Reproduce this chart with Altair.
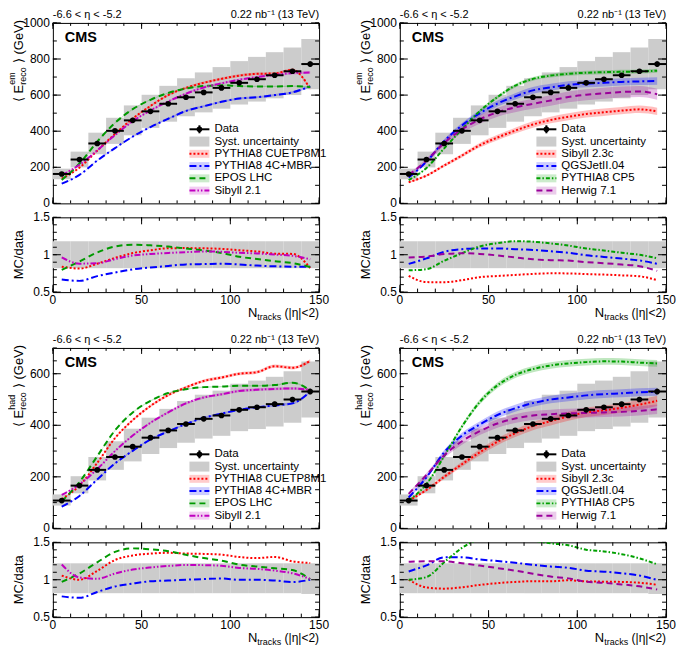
import altair as alt
import pandas as pd

FONT = "Liberation Sans"

# ---------------- data ----------------
ntrk = [5, 15, 25, 35, 45, 55, 65, 75, 85, 95, 105, 115, 125, 135, 145]
bin_lo = [0, 10, 20, 30, 40, 50, 60, 70, 80, 90, 100, 110, 120, 130, 140]
bin_hi = [10, 20, 30, 40, 50, 60, 70, 80, 90, 100, 110, 120, 130, 140, 150]

em_data = [163, 243, 332, 402, 460, 510, 552, 588, 615, 640, 668, 688, 710, 732, 772]
em_stat = [4, 5, 5, 6, 6, 6, 7, 7, 8, 8, 9, 10, 11, 12, 14]
em_syst_up = [0.18, 0.18, 0.18, 0.18, 0.18, 0.18, 0.18, 0.18, 0.18, 0.18, 0.18, 0.18, 0.18, 0.18, 0.18]
em_syst_dn = [0.18, 0.18, 0.18, 0.18, 0.18, 0.18, 0.18, 0.18, 0.18, 0.18, 0.18, 0.18, 0.18, 0.18, 0.18]

had_data = [108, 166, 227, 277, 317, 352, 380, 405, 425, 438, 460, 470, 482, 500, 531]
had_stat = [3, 4, 4, 5, 5, 5, 6, 6, 6, 7, 7, 8, 9, 10, 11]
had_syst_up = [0.22, 0.22, 0.22, 0.22, 0.22, 0.22, 0.22, 0.22, 0.22, 0.22, 0.22, 0.22, 0.22, 0.22, 0.22]
had_syst_dn = [0.18, 0.18, 0.18, 0.18, 0.18, 0.18, 0.18, 0.18, 0.18, 0.18, 0.18, 0.18, 0.18, 0.18, 0.19]

# EM, model set A
em_cuetp8m1 = [137, 198, 292, 385, 470, 540, 600, 640, 668, 690, 708, 718, 720, 740, 635]
em_4cmbr = [109, 158, 237, 306, 370, 423, 469, 512, 538, 563, 581, 588, 600, 615, 648]
em_epos = [130, 221, 342, 446, 522, 574, 612, 637, 650, 655, 650, 648, 648, 650, 645]
em_sibyll21 = [157, 214, 294, 378, 455, 515, 565, 608, 642, 665, 685, 700, 712, 722, 725]
# EM, model set B
em_sibyll23c = [117, 154, 210, 265, 322, 365, 403, 437, 462, 480, 495, 505, 514, 521, 510]
em_qgsjet = [143, 231, 345, 432, 499, 553, 593, 626, 643, 657, 663, 668, 673, 676, 678]
em_cp5 = [129, 196, 305, 410, 511, 589, 652, 690, 708, 718, 724, 727, 729, 731, 735]
em_herwig = [157, 237, 335, 410, 465, 505, 532, 552, 570, 590, 602, 610, 617, 620, 605]

# HAD, model set A
had_cuetp8m1 = [114, 166, 254, 350, 420, 475, 517, 547, 572, 585, 600, 606, 629, 623, 650]
had_4cmbr = [84, 126, 190, 252, 301, 345, 376, 405, 429, 445, 460, 470, 477, 485, 531]
had_epos = [105, 180, 280, 380, 450, 495, 525, 540, 548, 550, 553, 553, 556, 565, 535]
had_sibyll21 = [130, 171, 230, 300, 360, 410, 450, 485, 508, 520, 533, 538, 541, 543, 537]
# HAD, model set B
had_sibyll23c = [108, 149, 200, 249, 295, 336, 369, 397, 416, 435, 450, 458, 468, 480, 495]
had_qgsjet = [120, 198, 295, 360, 403, 440, 466, 486, 500, 508, 516, 521, 524, 528, 530]
had_cp5 = [108, 172, 280, 395, 490, 555, 595, 618, 632, 640, 645, 648, 647, 643, 640]
had_herwig = [134, 207, 283, 338, 377, 407, 426, 438, 443, 446, 448, 450, 452, 456, 462]

# relative MC uncertainty (hatched bands)
unc_em_A = {"PYTHIA8 CUETP8M1": 0.01, "PYTHIA8 4C+MBR": 0.01, "EPOS LHC": 0.005, "Sibyll 2.1": 0.01}
unc_em_B = {"Sibyll 2.3c": 0.04, "QGSJetII.04": 0.03, "PYTHIA8 CP5": 0.015, "Herwig 7.1": 0.05}
unc_had_A = {"PYTHIA8 CUETP8M1": 0.01, "PYTHIA8 4C+MBR": 0.01, "EPOS LHC": 0.005, "Sibyll 2.1": 0.01}
unc_had_B = {"Sibyll 2.3c": 0.04, "QGSJetII.04": 0.03, "PYTHIA8 CP5": 0.02, "Herwig 7.1": 0.04}

# axis ticks and labels
x_major = [0, 50, 100, 150]
x_labels = ["0", "50", "100", "150"]
x_minor = [0, 10, 20, 30, 40, 50, 60, 70, 80, 90, 100, 110, 120, 130, 140, 150]
em_y_major = [0, 200, 400, 600, 800, 1000]
em_y_labels = ["0", "200", "400", "600", "800", "1000"]
em_y_minor = [0, 100, 200, 300, 400, 500, 600, 700, 800, 900, 1000]
had_y_major = [0, 200, 400, 600]
had_y_labels = ["0", "200", "400", "600"]
had_y_minor = [0, 50, 100, 150, 200, 250, 300, 350, 400, 450, 500, 550, 600, 650, 700]
r_major = [0.5, 1.0, 1.5]
r_labels = ["0.5", "1", "1.5"]
r_minor = [0.5, 0.6, 0.7, 0.8, 0.9, 1.0, 1.1, 1.2, 1.3, 1.4, 1.5]

# ---------------- styles ----------------
ALL_MODELS = ["PYTHIA8 CUETP8M1", "PYTHIA8 4C+MBR", "EPOS LHC", "Sibyll 2.1",
              "Sibyll 2.3c", "QGSJetII.04", "PYTHIA8 CP5", "Herwig 7.1"]
COLORS = ["#ff0000", "#0000ff", "#009900", "#c000c0",
          "#ff0000", "#0000ff", "#00a000", "#9a009a"]
DASHES = [[2, 2], [7, 3, 2, 3], [6, 4], [6, 2, 1.5, 2, 1.5, 2],
          [2, 2], [7, 3, 2, 3], [4, 2, 1.5, 2], [6, 4]]
COLOR_OF = dict(zip(ALL_MODELS, COLORS))
DASH_OF = dict(zip(ALL_MODELS, DASHES))

W = 267
HM = 181
HR = 75
SYST_GRAY = "#cccccc"
LABEL_SIZE = 12

color_enc = alt.Color("model:N", scale=alt.Scale(domain=ALL_MODELS, range=COLORS), legend=None)
dash_enc = alt.StrokeDash("model:N", scale=alt.Scale(domain=ALL_MODELS, range=DASHES), legend=None)

dummy = pd.DataFrame({"k": [0]})


def txt(s, x, y, size=12, align="left", baseline="alphabetic", angle=0, bold=False):
    return alt.Chart(dummy).mark_text(
        text=s, fontSize=size, align=align, baseline=baseline, angle=angle,
        font=FONT, fontWeight="bold" if bold else "normal", color="black"
    ).encode(x=alt.value(x), y=alt.value(y))


def tick_layers(vals, scale, orient, length, width, height):
    df = pd.DataFrame({"t": vals})
    base = alt.Chart(df).mark_rule(color="black", strokeWidth=1)
    if orient == "x":
        enc = alt.X("t:Q", scale=scale, axis=None)
        return [base.encode(x=enc, y=alt.value(height - length), y2=alt.value(height)),
                base.encode(x=enc, y=alt.value(0), y2=alt.value(length))]
    enc = alt.Y("t:Q", scale=scale, axis=None)
    return [base.encode(y=enc, x=alt.value(0), x2=alt.value(length)),
            base.encode(y=enc, x=alt.value(width - length), x2=alt.value(width))]


def y_labels(vals, labels, scale):
    df = pd.DataFrame({"t": vals, "lab": labels})
    return alt.Chart(df).mark_text(align="right", baseline="middle", fontSize=LABEL_SIZE,
                                   font=FONT, color="black").encode(
        y=alt.Y("t:Q", scale=scale, axis=None), x=alt.value(-3), text="lab:N")


def x_labels_layer(vals, labels, scale, height):
    df = pd.DataFrame({"t": vals, "lab": labels})
    return alt.Chart(df).mark_text(align="center", baseline="top", fontSize=LABEL_SIZE,
                                   font=FONT, color="black").encode(
        x=alt.X("t:Q", scale=scale, axis=None), y=alt.value(height + 3), text="lab:N")


def mc_frame(models, series, data, unc):
    rows = []
    for m, vals in zip(models, series):
        for x, v, d in zip(ntrk, vals, data):
            rows.append({"x": x, "model": m, "mc": v, "data": d, "u": unc[m]})
    return pd.DataFrame(rows)


def panel(data, stat, s_up, s_dn, models, series, unc, ymax, ymaj, ylab, ymin, sup):
    xs = alt.Scale(domain=[0, 150], nice=False, zero=False)
    ys = alt.Scale(domain=[0, ymax], nice=False)
    rs = alt.Scale(domain=[0.5, 1.5], nice=False, zero=False)

    ddf = pd.DataFrame({"x": ntrk, "lo": bin_lo, "hi": bin_hi, "v": data,
                        "stat": stat, "up": s_up, "dn": s_dn})
    mdf = mc_frame(models, series, data, unc)

    syst = alt.Chart(ddf).transform_calculate(
        y1="datum.v*(1-datum.dn)", y2="datum.v*(1+datum.up)"
    ).mark_rect(color=SYST_GRAY).encode(
        x=alt.X("lo:Q", scale=xs, axis=None), x2="hi:Q",
        y=alt.Y("y1:Q", scale=ys, axis=None), y2="y2:Q")

    band = alt.Chart(mdf).transform_calculate(
        b1="datum.mc*(1-datum.u)", b2="datum.mc*(1+datum.u)"
    ).mark_area(opacity=0.25, interpolate="monotone").encode(
        x=alt.X("x:Q", scale=xs, axis=None),
        y=alt.Y("b1:Q", scale=ys, axis=None), y2="b2:Q", color=color_enc)

    lines = alt.Chart(mdf).mark_line(strokeWidth=2, interpolate="monotone").encode(
        x=alt.X("x:Q", scale=xs, axis=None),
        y=alt.Y("mc:Q", scale=ys, axis=None), color=color_enc, strokeDash=dash_enc)

    hbar = alt.Chart(ddf).mark_rule(color="black", strokeWidth=2).encode(
        x=alt.X("lo:Q", scale=xs, axis=None), x2="hi:Q",
        y=alt.Y("v:Q", scale=ys, axis=None))
    vbar = alt.Chart(ddf).transform_calculate(
        e1="datum.v-datum.stat", e2="datum.v+datum.stat"
    ).mark_rule(color="black", strokeWidth=2).encode(
        x=alt.X("x:Q", scale=xs, axis=None),
        y=alt.Y("e1:Q", scale=ys, axis=None), y2="e2:Q")
    pts = alt.Chart(ddf).mark_circle(color="black", size=32, opacity=1).encode(
        x=alt.X("x:Q", scale=xs, axis=None), y=alt.Y("v:Q", scale=ys, axis=None))

    ticks = (tick_layers(x_major, xs, "x", 6, W, HM) + tick_layers(x_minor, xs, "x", 3, W, HM)
             + tick_layers(ymaj, ys, "y", 8, W, HM) + tick_layers(ymin, ys, "y", 4, W, HM))

    texts = [
        y_labels(ymaj, ylab, ys),
        txt("-6.6 < η < -5.2", 0, -5, 11),
        txt("0.22 nb⁻¹ (13 TeV)", W, -5, 11, align="right"),
        txt("CMS", 12, 19, 14.5, bold=True),
    ]
    # y-axis title pieces (rotated, read bottom to top)
    P = 62
    bx = -29.5
    texts += [
        txt("⟨ E", bx, P, 13, align="right", angle=270),
        txt("reco", bx + 3, P, 9, align="left", angle=270),
        txt(sup, bx - 8, P, 9, align="left", angle=270),
        txt("⟩", bx, P - 22, 13, align="left", angle=270),
        txt("(GeV)", bx, -3, 13, align="right", angle=270),
    ]

    # legend
    LX0, LX1, LT = 137, 157, 162
    ly = [HM - 74.3, HM - 62, HM - 49.7, HM - 37.4, HM - 25.1, HM - 12.8]
    leg = []
    leg.append(alt.Chart(dummy).mark_rule(color="black", strokeWidth=2).encode(
        x=alt.value(LX0), x2=alt.value(LX1), y=alt.value(ly[0])))
    leg.append(alt.Chart(dummy).mark_rule(color="black", strokeWidth=2).encode(
        x=alt.value((LX0 + LX1) / 2), y=alt.value(ly[0] - 4), y2=alt.value(ly[0] + 4)))
    leg.append(alt.Chart(dummy).mark_circle(color="black", size=32, opacity=1).encode(
        x=alt.value((LX0 + LX1) / 2), y=alt.value(ly[0])))
    leg.append(txt("Data", LT, ly[0], 11.5, baseline="middle"))
    leg.append(alt.Chart(dummy).mark_rect(color=SYST_GRAY).encode(
        x=alt.value(LX0), x2=alt.value(LX1), y=alt.value(ly[1] - 5), y2=alt.value(ly[1] + 5)))
    leg.append(txt("Syst. uncertainty", LT, ly[1], 11.5, baseline="middle"))
    for i, m in enumerate(models):
        yy = ly[2 + i]
        leg.append(alt.Chart(dummy).mark_rect(color=COLOR_OF[m], opacity=0.2).encode(
            x=alt.value(LX0), x2=alt.value(LX1), y=alt.value(yy - 4), y2=alt.value(yy + 4)))
        leg.append(alt.Chart(dummy).mark_rule(color=COLOR_OF[m], strokeWidth=2,
                                              strokeDash=DASH_OF[m]).encode(
            x=alt.value(LX0), x2=alt.value(LX1), y=alt.value(yy)))
        leg.append(txt(m, LT, yy, 11.5, baseline="middle"))

    main = alt.layer(syst, band, lines, hbar, vbar, pts, *ticks, *texts, *leg).properties(
        width=W, height=HM)

    # ratio panel
    rsyst = alt.Chart(ddf).transform_calculate(
        r1="1-datum.dn", r2="1+datum.up"
    ).mark_rect(color=SYST_GRAY).encode(
        x=alt.X("lo:Q", scale=xs, axis=None), x2="hi:Q",
        y=alt.Y("r1:Q", scale=rs, axis=None), y2="r2:Q")
    rlines = alt.Chart(mdf).transform_calculate(
        r="datum.mc/datum.data"
    ).mark_line(strokeWidth=2, interpolate="monotone", clip=True).encode(
        x=alt.X("x:Q", scale=xs, axis=None),
        y=alt.Y("r:Q", scale=rs, axis=None), color=color_enc, strokeDash=dash_enc)
    rticks = (tick_layers(x_major, xs, "x", 7, W, HR) + tick_layers(x_minor, xs, "x", 3.5, W, HR)
              + tick_layers(r_major, rs, "y", 8, W, HR) + tick_layers(r_minor, rs, "y", 4, W, HR))
    rtexts = [
        y_labels(r_major, r_labels, rs),
        x_labels_layer(x_major, x_labels, xs, HR),
        txt("MC/data", bx, HR / 2, 13, align="center", angle=270),
        txt(" (|η|<2)", W, HR + 25, 12, align="right"),
        txt("tracks", W - 38, HR + 28, 9, align="right"),
        txt("N", W - 62, HR + 25, 13, align="right"),
    ]
    ratio = alt.layer(rsyst, rlines, *rticks, *rtexts).properties(width=W, height=HR)

    return alt.vconcat(main, ratio, spacing=0)


models_A = ["PYTHIA8 CUETP8M1", "PYTHIA8 4C+MBR", "EPOS LHC", "Sibyll 2.1"]
models_B = ["Sibyll 2.3c", "QGSJetII.04", "PYTHIA8 CP5", "Herwig 7.1"]

p_tl = panel(em_data, em_stat, em_syst_up, em_syst_dn, models_A,
             [em_cuetp8m1, em_4cmbr, em_epos, em_sibyll21], unc_em_A,
             1000, em_y_major, em_y_labels, em_y_minor, "em")
p_tr = panel(em_data, em_stat, em_syst_up, em_syst_dn, models_B,
             [em_sibyll23c, em_qgsjet, em_cp5, em_herwig], unc_em_B,
             1000, em_y_major, em_y_labels, em_y_minor, "em")
p_bl = panel(had_data, had_stat, had_syst_up, had_syst_dn, models_A,
             [had_cuetp8m1, had_4cmbr, had_epos, had_sibyll21], unc_had_A,
             700, had_y_major, had_y_labels, had_y_minor, "had")
p_br = panel(had_data, had_stat, had_syst_up, had_syst_dn, models_B,
             [had_sibyll23c, had_qgsjet, had_cp5, had_herwig], unc_had_B,
             700, had_y_major, had_y_labels, had_y_minor, "had")

row1 = alt.hconcat(p_tl, p_tr, spacing=25)
row2 = alt.hconcat(p_bl, p_br, spacing=25)

chart = alt.vconcat(row1, row2, spacing=10).properties(
    padding={"left": 0, "top": -1, "right": 0, "bottom": 0}
).configure_view(stroke="black", strokeWidth=1)

chart.save("out.html", embed_options={"renderer": "svg", "actions": False})
